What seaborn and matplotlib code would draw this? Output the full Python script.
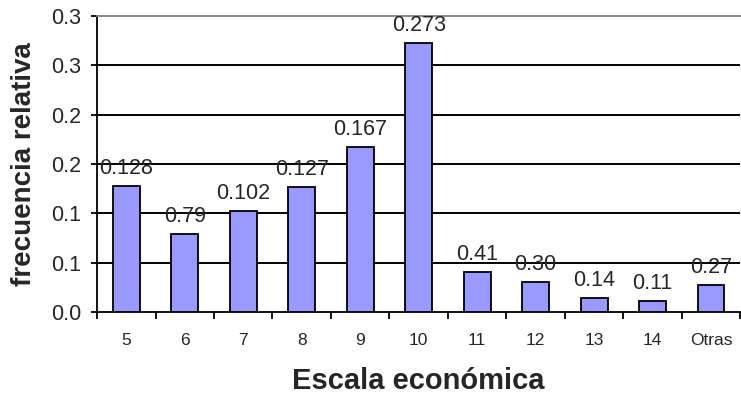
import seaborn as sns
import pandas as pd
import matplotlib.pyplot as plt
import numpy as np

categories = ['5', '6', '7', '8', '9', '10', '11', '12', '13', '14', 'Otras']
values = [0.128, 0.079, 0.102, 0.127, 0.167, 0.273, 0.041, 0.030, 0.014, 0.011, 0.027]
bar_labels = ['0.128', '0.79', '0.102', '0.127', '0.167', '0.273', '0.41', '0.30', '0.14', '0.11', '0.27']
ytick_values = [0.0, 0.05, 0.10, 0.15, 0.20, 0.25, 0.30]
ytick_labels = ['0.0', '0.1', '0.1', '0.2', '0.2', '0.3', '0.3']

df = pd.DataFrame({'escala': categories, 'frec': values})

sns.set_theme(style='white')
plt.rcParams['font.family'] = ['Liberation Sans', 'DejaVu Sans']

f, ax = plt.subplots(figsize=(7.41, 4.0), dpi=100)
f.subplots_adjust(left=0.131, right=0.999, bottom=0.22, top=0.96)

sns.barplot(data=df, x='escala', y='frec', color='#9999FF', saturation=1,
            edgecolor='black', linewidth=1.3, width=0.46, ax=ax, zorder=3)

ax.bar_label(ax.containers[0], labels=bar_labels, padding=5, fontsize=15.5)

ax.set_ylim(0, 0.3)
ax.set_xlim(-0.5, len(categories) - 0.5)
ax.set_yticks(ytick_values)
ax.set_yticklabels(ytick_labels, fontsize=15.5)
for y in ytick_values[1:-1]:
    ax.axhline(y, color='black', lw=1.4, zorder=1)

ax.tick_params(axis='x', which='major', length=0, labelsize=12.5, pad=15)
ax.set_xticks(np.arange(len(categories) + 1) - 0.5, minor=True)
ax.tick_params(axis='x', which='minor', length=5, width=1.3, color='black', bottom=True, direction='out')
ax.tick_params(axis='y', length=4.5, width=1.3, color='black', left=True, direction='out', pad=7)

for s in ['left', 'bottom']:
    ax.spines[s].set_color('black')
    ax.spines[s].set_linewidth(1.3)
ax.spines['right'].set_visible(False)
ax.spines['top'].set_color('#808080')
ax.spines['top'].set_linewidth(1.3)

ax.set_xlabel('Escala económica', fontsize=21, fontweight='bold', labelpad=14)
ax.set_ylabel('frecuencia relativa', fontsize=20, fontweight='bold', labelpad=10)

f.savefig('out.png', dpi=100)
